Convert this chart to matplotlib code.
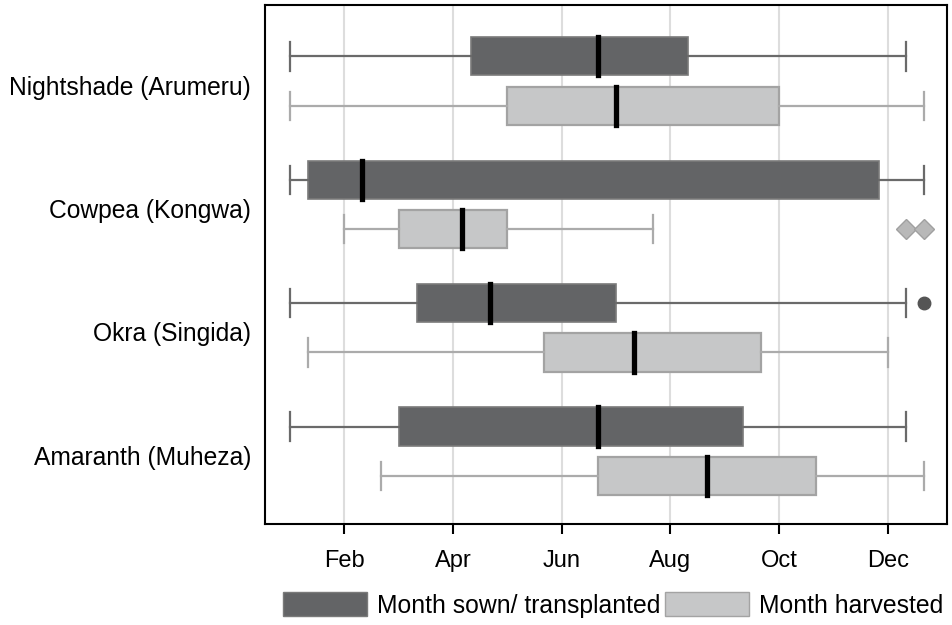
import matplotlib
matplotlib.use("Agg")
import matplotlib.pyplot as plt
import matplotlib.transforms as mtransforms
from matplotlib.patches import Patch

plt.rcParams["font.family"] = ["Liberation Sans", "DejaVu Sans"]

# crops, top to bottom
crops = ["Nightshade (Arumeru)", "Cowpea (Kongwa)", "Okra (Singida)", "Amaranth (Muheza)"]

# month values (Jan = 1), read in thirds of a month
sown_min = [1.0, 1.0, 1.0, 1.0]
sown_q1 = [4.33, 1.33, 3.33, 3.0]
sown_med = [6.67, 2.33, 4.67, 6.67]
sown_q3 = [8.33, 11.83, 7.0, 9.33]
sown_max = [12.33, 12.67, 12.33, 12.33]
sown_out = [[], [], [12.67], []]

harv_min = [1.0, 2.0, 1.33, 2.67]
harv_q1 = [5.0, 3.0, 5.67, 6.67]
harv_med = [7.0, 4.17, 7.33, 8.67]
harv_q3 = [10.0, 5.0, 9.67, 10.67]
harv_max = [12.67, 7.67, 12.0, 12.67]
harv_out = [[], [12.33, 12.67], [], []]

month_ticks = [2, 4, 6, 8, 10, 12]
month_labels = ["Feb", "Apr", "Jun", "Aug", "Oct", "Dec"]

SOWN_FILL = "#636466"
SOWN_EDGE = "#7a7a7a"
HARV_FILL = "#c6c7c8"
HARV_EDGE = "#a3a3a3"


def make_stats(lo, q1, med, q3, hi, out):
    return [
        dict(whislo=a, q1=b, med=c, q3=d, whishi=e, fliers=f)
        for a, b, c, d, e, f in zip(lo, q1, med, q3, hi, out)
    ]


fig = plt.figure(figsize=(9.53, 6.25), dpi=100)
ax = fig.add_axes([265 / 953, 1 - 524 / 625, 682 / 953, 519 / 625])

n = len(crops)
group_y = [n - 1 - i for i in range(n)]
offset = 0.2
box_w = 0.31

# Month sown / transplanted
ax.bxp(
    make_stats(sown_min, sown_q1, sown_med, sown_q3, sown_max, sown_out),
    positions=[y + offset for y in group_y],
    widths=box_w,
    capwidths=0.23,
    vert=False,
    patch_artist=True,
    boxprops=dict(facecolor=SOWN_FILL, edgecolor=SOWN_EDGE, linewidth=1.2),
    whiskerprops=dict(color="#6a6a6a", linewidth=1.6),
    capprops=dict(color="#6a6a6a", linewidth=1.6),
    medianprops=dict(color="black", linewidth=3.8, solid_capstyle="projecting"),
    flierprops=dict(marker="o", markerfacecolor="#555555", markeredgecolor="#555555",
                    markersize=9),
)

# Month harvested
ax.bxp(
    make_stats(harv_min, harv_q1, harv_med, harv_q3, harv_max, harv_out),
    positions=[y - offset for y in group_y],
    widths=box_w,
    capwidths=0.23,
    vert=False,
    patch_artist=True,
    boxprops=dict(facecolor=HARV_FILL, edgecolor=HARV_EDGE, linewidth=1.6),
    whiskerprops=dict(color="#ababab", linewidth=1.6),
    capprops=dict(color="#ababab", linewidth=1.6),
    medianprops=dict(color="black", linewidth=3.8, solid_capstyle="projecting"),
    flierprops=dict(marker="D", markerfacecolor="#b8b8b8", markeredgecolor="#a0a0a0",
                    markersize=10.5),
)

# Axes
ax.set_xlim(0.537, 13.09)
ax.set_ylim(-0.59, n - 1 + 0.616)
ax.set_xticks(month_ticks)
ax.set_xticklabels(month_labels, fontsize=17)
ax.set_yticks(group_y)
ax.set_yticklabels(crops, fontsize=17.7)
ax.tick_params(axis="y", length=0, pad=10)
ax.tick_params(axis="x", length=7, width=1.5, pad=12, direction="out")

# nudge crop labels a little below the group centre
shift = mtransforms.ScaledTranslation(0, -4 / 100, fig.dpi_scale_trans)
for lab in ax.get_yticklabels():
    lab.set_transform(lab.get_transform() + shift)

ax.xaxis.grid(True, color="#dddddd", linewidth=1.5)
ax.set_axisbelow(True)
for side in ax.spines.values():
    side.set_linewidth(1.5)
    side.set_color("black")

# Legend
handles = [
    Patch(facecolor=SOWN_FILL, edgecolor=SOWN_EDGE, label="Month sown/ transplanted"),
    Patch(facecolor=HARV_FILL, edgecolor=HARV_EDGE, label="Month harvested"),
]
fig.legend(
    handles=handles,
    loc="center left",
    bbox_to_anchor=(283 / 953, 1 - 605 / 625),
    ncol=2,
    frameon=False,
    fontsize=17.8,
    handlelength=3.4,
    handleheight=1.1,
    handletextpad=0.4,
    columnspacing=0.2,
    borderpad=0,
    borderaxespad=0,
)

fig.savefig("out.png", dpi=100)
